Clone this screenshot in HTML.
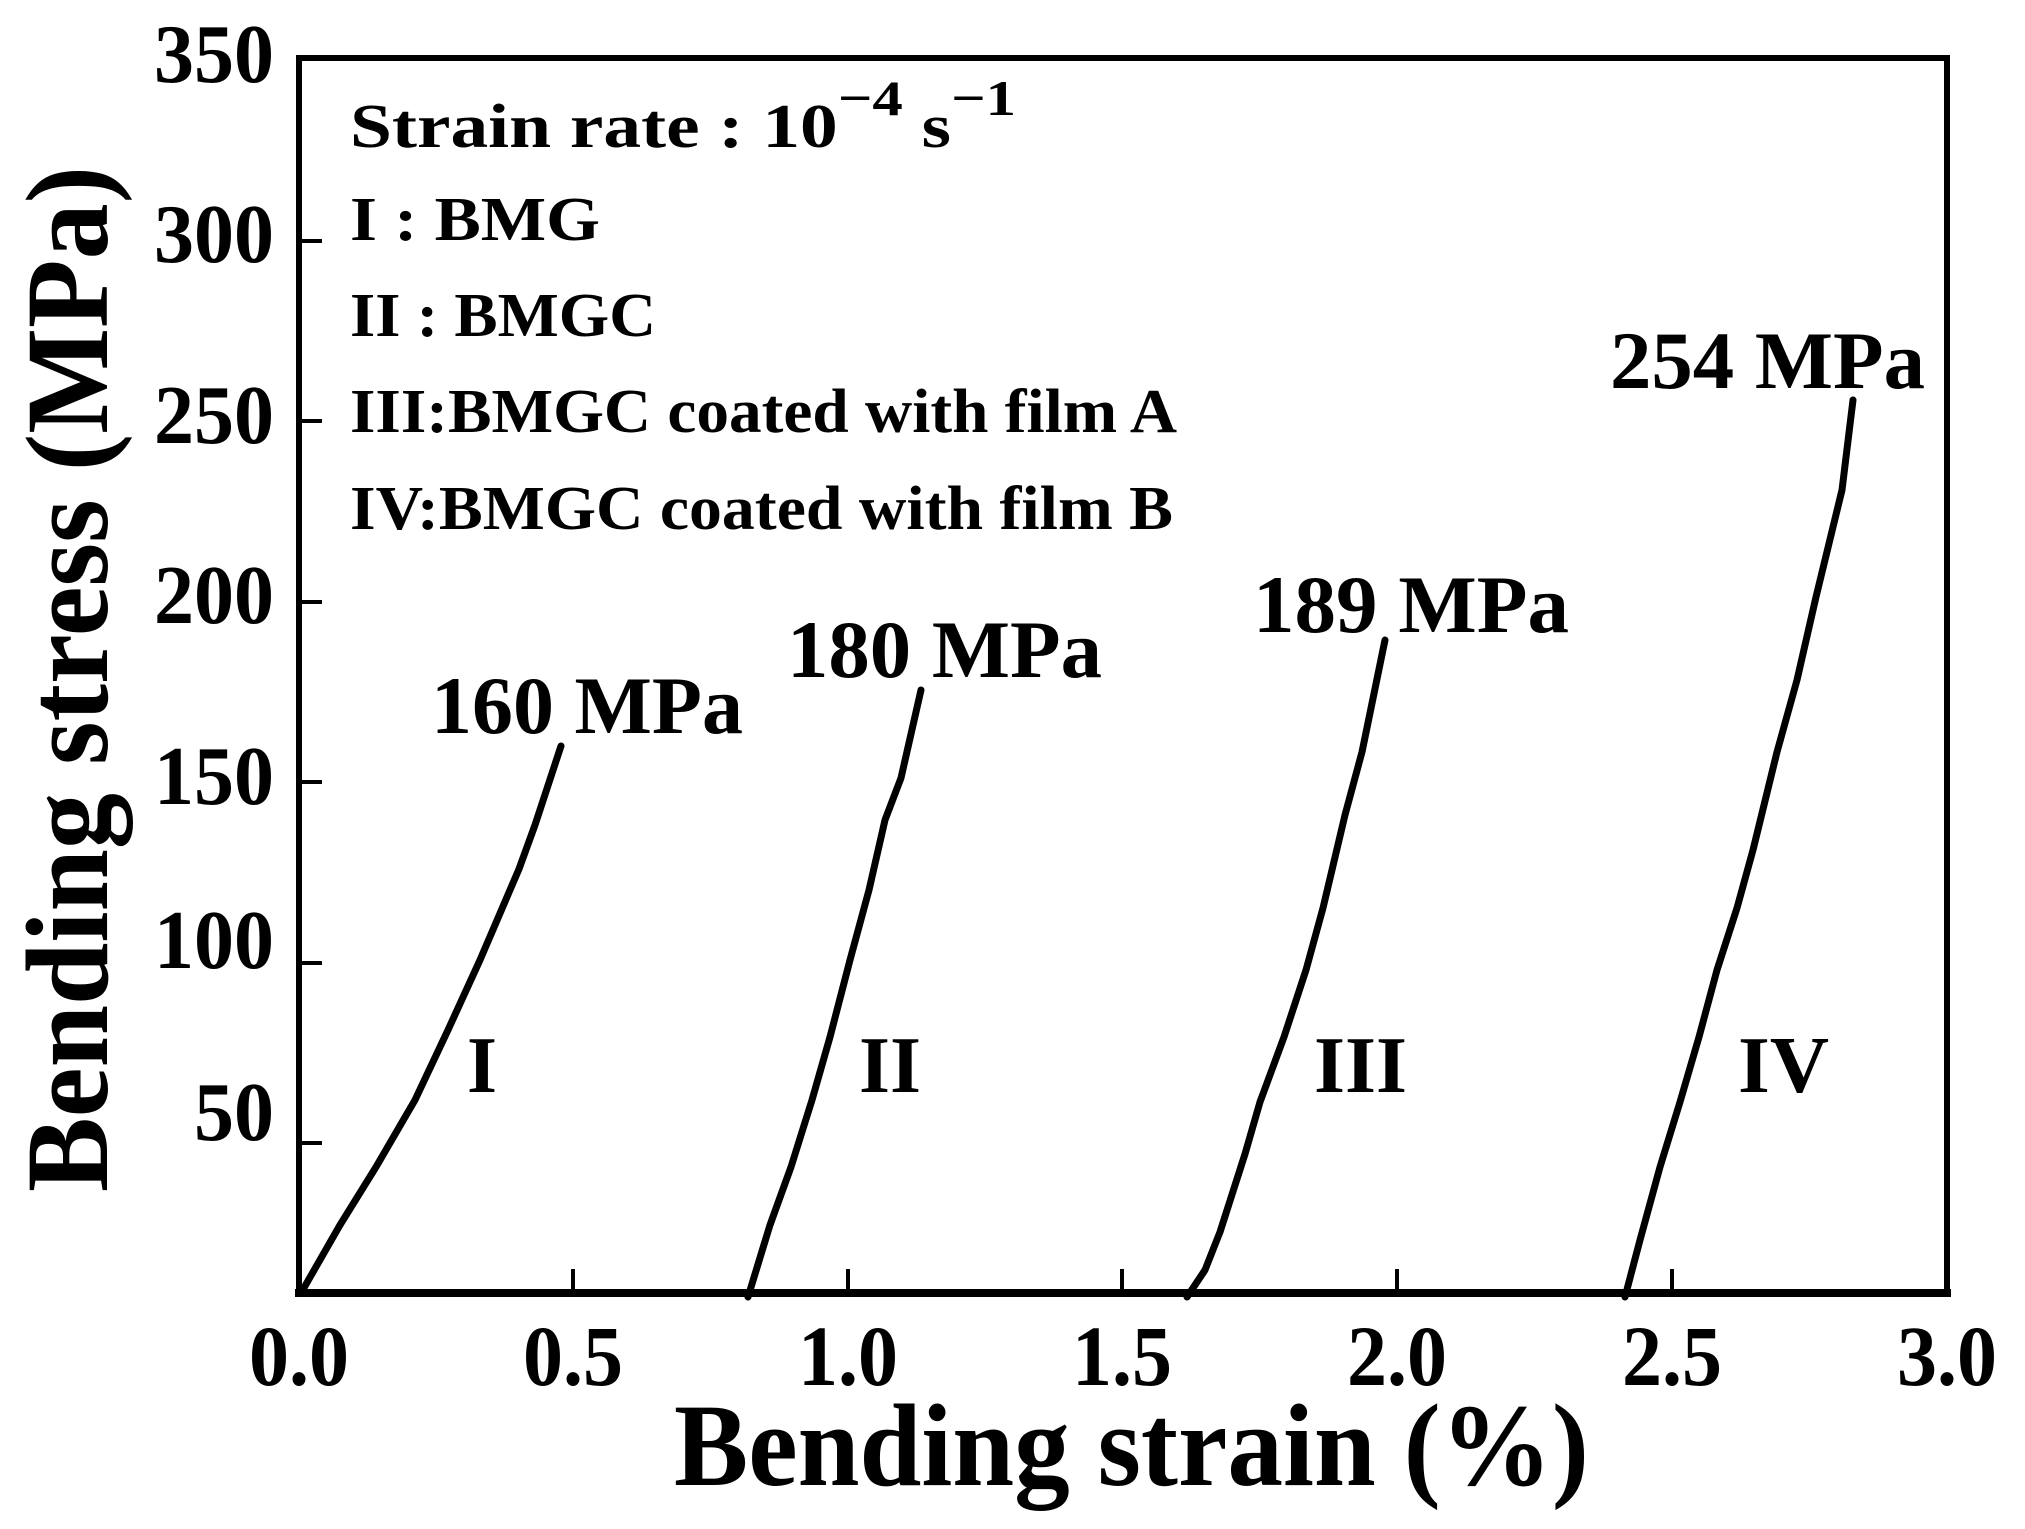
<!DOCTYPE html>
<html><head><meta charset="utf-8"><style>html,body{margin:0;padding:0;background:#fff}</style></head><body>
<svg width="2025" height="1524" viewBox="0 0 2025 1524" xmlns="http://www.w3.org/2000/svg" font-family="Liberation Serif, serif" font-weight="bold">
<rect width="2025" height="1524" fill="#fff"/>
<g stroke="#000" fill="none" stroke-linecap="square">
<rect x="299" y="58" width="1648" height="1235" stroke-width="6"/>
<line x1="299" y1="1293" x2="1947" y2="1293" stroke-width="8"/>
<g stroke-width="4">
<line x1="573" y1="1293" x2="573" y2="1271"/><line x1="848" y1="1293" x2="848" y2="1271"/>
<line x1="1122" y1="1293" x2="1122" y2="1271"/><line x1="1397" y1="1293" x2="1397" y2="1271"/>
<line x1="1672" y1="1293" x2="1672" y2="1271"/>
<line x1="299" y1="1143" x2="320" y2="1143"/><line x1="299" y1="963" x2="320" y2="963"/>
<line x1="299" y1="782" x2="320" y2="782"/><line x1="299" y1="602" x2="320" y2="602"/>
<line x1="299" y1="421" x2="320" y2="421"/><line x1="299" y1="241" x2="320" y2="241"/>
</g>
<g stroke-width="7" stroke-linejoin="round" stroke-linecap="round">
<path d="M301,1293 L340,1225 L376,1167 L415,1100 L448,1030 L480,960 L519,869 L535,825 L561,746"/>
<path d="M748,1297 L770,1225 L791,1167 L812,1100 L830,1037 L850,960 L869,890 L885,820 L901,778 L921,690"/>
<path d="M1187,1297 L1205,1270 L1220,1232 L1245,1154 L1260,1102 L1284,1037 L1306,970 L1323,908 L1345,815 L1362,752 L1385,640"/>
<path d="M1625,1297 L1640,1240 L1660,1167 L1680,1102 L1699,1037 L1717,970 L1737,908 L1753,850 L1777,752 L1797,680 L1816,597 L1842,490 L1853,400"/>
</g>
</g>
<g font-size="86" text-anchor="middle">
<text x="299" y="1385" textLength="100" lengthAdjust="spacingAndGlyphs">0.0</text>
<text x="573" y="1385" textLength="100" lengthAdjust="spacingAndGlyphs">0.5</text>
<text x="848" y="1385" textLength="100" lengthAdjust="spacingAndGlyphs">1.0</text>
<text x="1122" y="1385" textLength="100" lengthAdjust="spacingAndGlyphs">1.5</text>
<text x="1397" y="1385" textLength="100" lengthAdjust="spacingAndGlyphs">2.0</text>
<text x="1672" y="1385" textLength="100" lengthAdjust="spacingAndGlyphs">2.5</text>
<text x="1947" y="1385" textLength="100" lengthAdjust="spacingAndGlyphs">3.0</text>
</g>
<g font-size="84">
<text x="154" y="82" textLength="120" lengthAdjust="spacingAndGlyphs">350</text>
<text x="154" y="262" textLength="120" lengthAdjust="spacingAndGlyphs">300</text>
<text x="154" y="443" textLength="120" lengthAdjust="spacingAndGlyphs">250</text>
<text x="154" y="623" textLength="120" lengthAdjust="spacingAndGlyphs">200</text>
<text x="154" y="804" textLength="120" lengthAdjust="spacingAndGlyphs">150</text>
<text x="154" y="968" textLength="120" lengthAdjust="spacingAndGlyphs">100</text>
<text x="194" y="1140" textLength="80" lengthAdjust="spacingAndGlyphs">50</text>
</g>
<text x="674" y="1485" font-size="118" textLength="915" lengthAdjust="spacingAndGlyphs">Bending strain (%)</text>
<text transform="translate(107,1192) rotate(-90)" font-size="118" textLength="1026" lengthAdjust="spacingAndGlyphs">Bending stress (MPa)</text>
<g font-size="62">
<text x="350" y="147" textLength="666" lengthAdjust="spacingAndGlyphs">Strain rate : 10<tspan dy="-32" font-size="50">−4</tspan><tspan dy="32"> s</tspan><tspan dy="-32" font-size="50">−1</tspan></text>
<text x="350" y="240" textLength="250" lengthAdjust="spacingAndGlyphs">I  : BMG</text>
<text x="350" y="336" textLength="306" lengthAdjust="spacingAndGlyphs">II : BMGC</text>
<text x="350" y="432" textLength="827" lengthAdjust="spacingAndGlyphs">III:BMGC coated with film A</text>
<text x="350" y="529" textLength="823" lengthAdjust="spacingAndGlyphs">IV:BMGC coated with film B</text>
</g>
<g font-size="82">
<text x="431" y="733" textLength="312" lengthAdjust="spacingAndGlyphs">160 MPa</text>
<text x="787" y="677" textLength="315" lengthAdjust="spacingAndGlyphs">180 MPa</text>
<text x="1253" y="632" textLength="316" lengthAdjust="spacingAndGlyphs">189 MPa</text>
<text x="1610" y="388" textLength="315" lengthAdjust="spacingAndGlyphs">254 MPa</text>
</g>
<g font-size="80">
<text x="467" y="1092" textLength="30" lengthAdjust="spacingAndGlyphs">I</text>
<text x="859" y="1092" textLength="62" lengthAdjust="spacingAndGlyphs">II</text>
<text x="1314" y="1092" textLength="93" lengthAdjust="spacingAndGlyphs">III</text>
<text x="1738" y="1092" textLength="91" lengthAdjust="spacingAndGlyphs">IV</text>
</g>
</svg>
</body></html>
